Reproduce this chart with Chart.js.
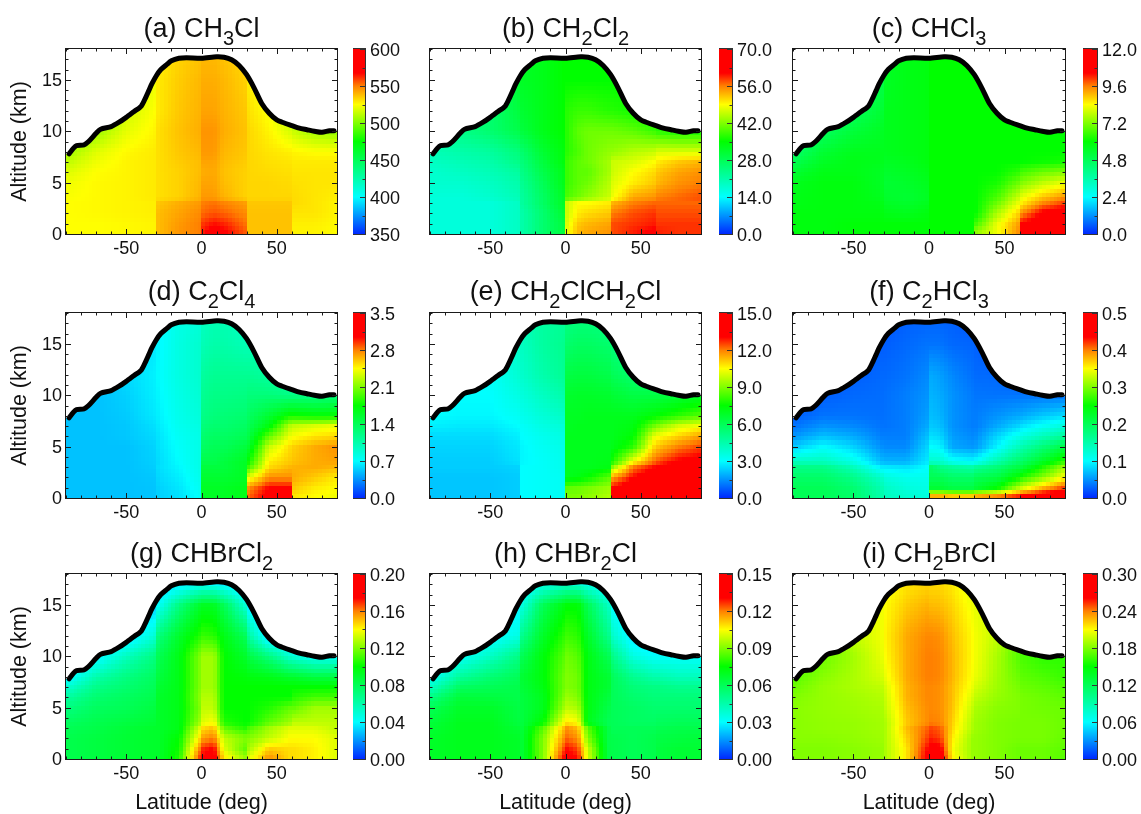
<!DOCTYPE html>
<html><head><meta charset="utf-8">
<script src="https://cdn.jsdelivr.net/npm/chart.js@4"></script>
<style>
html,body{margin:0;padding:0;background:#fff;width:1141px;height:814px;overflow:hidden}
canvas{position:absolute}
.ttl{position:absolute;font-family:"Liberation Sans",sans-serif;font-size:27px;line-height:30px;color:#111;white-space:nowrap;transform:translateX(-50%)}
.ttl sub{font-size:20px;vertical-align:-8px;line-height:0}
</style></head><body>
<script>
const latitudes=[-90,-70,-50,-31,-29,-15,-1,1,8,15,29,31,45,59,61,75,90];
const altitudes=[0,1,2,3,3.5,5,6,7,8,10,12,15,18];
const tropopauseLat=[-88,-85,-83,-78,-75,-70,-67,-60,-55,-50,-45,-40,-37,-35,-33,-30,-27,-23,-20,-15,-10,0,10,15,20,25,30,35,40,45,50,55,60,65,70,75,80,85,88];
const tropopauseAlt=[7.8,8.35,8.6,8.68,9.0,9.8,10.2,10.45,10.85,11.35,11.9,12.45,13.3,13.95,14.6,15.4,16.0,16.5,16.85,17.1,17.15,17.1,17.25,17.2,16.95,16.4,15.5,14.2,12.7,11.75,11.1,10.8,10.55,10.3,10.15,10.0,9.9,10.05,10.05];

const valuesA=[
[525,525,526,527,538,546,550,565,575,570,556,537,537,537,527,527,525],
[525,525,526,527,538,545,550,560,566,563,552,537,537,537,528,528,526],
[525,526,527,528,538,543,548,553,556,554,548,537,537,537,530,530,527],
[525,526,527,528,536,541,545,550,552,549,544,536,536,536,532,530,527],
[524,526,527,529,531,534,540,545,545,540,534,533,533,533,532,530,528],
[522,526,527,529,531,534,539,543,543,538,534,533,533,532,531,530,530],
[518,525,527,529,531,534,538,541,542,537,534,533,532,531,530,530,530],
[512,522,527,529,531,535,538,543,543,538,535,533,531,530,529,529,529],
[505,519,526,529,531,536,539,545,545,539,536,533,530,528,527,525,525],
[495,505,520,527,531,537,541,546,546,541,537,533,527,517,514,506,503],
[490,490,515,525,529,536,540,543,543,540,536,531,524,510,505,500,500],
[490,490,510,522,529,535,539,541,541,539,534,528,522,510,500,500,500],
[490,490,510,518,527,533,536,538,538,536,532,522,520,510,500,500,500]];
const valuesB=[
[17,17,17,19,21,26,30,48,53,54,55,58,60,62,60,59,59],
[17,17,17,19,21,26,30,47,52,53,54,58,59,60,59,59,59],
[17,17,17,19,21,26,31,46,50,51,52,56,58,59,58,58,58],
[17,17,17,19,22,27,32,46,49,49,50,53,56,57,57,57,57],
[17,17,18,20,22,27,32,39,41,43,46,48,54,55,56,57,58],
[18,18,19,21,23,28,33,38,40,41,45,47,50,52,53,55,56],
[18,19,20,22,24,29,33,38,40,40,44,46,49,51,52,54,55],
[19,20,21,24,25,30,34,38,40,41,44,46,47,49,50,52,53],
[20,21,22,25,26,31,34,37,39,41,43,43,45,46,47,47,47],
[22,24,26,29,30,33,35,37,40,41,41,41,40,38,37,36,36],
[24,24,26,30,31,33,35,37,38,38,37,37,36,35,35,35,35],
[24,24,26,31,32,33,35,35,35,35,35,35,35,35,35,35,35],
[24,24,26,31,32,33,35,35,35,35,35,35,35,35,35,35,35]];
const valuesC=[
[5.8,5.8,5.9,5.9,5.9,5.9,5.9,6,6,6,6,7.5,8.3,9.5,11,11.5,11.5],
[5.8,5.8,5.9,5.9,5.9,5.9,5.9,6,6,6,6,6.6,8.2,9.3,10.5,11,11.5],
[5.8,5.8,5.8,5.8,5.7,5.6,5.8,6,6,6,6,6,7.6,8.8,9.4,10.6,11],
[5.7,5.8,5.8,5.7,5.5,5.4,5.6,6,6,6,6,6,7,8.2,8.5,9.5,10],
[5.7,5.8,5.8,5.6,5.4,5.3,5.5,6,6,6,6,6,6.7,7.9,8.2,9,9.5],
[5.6,5.8,5.8,5.5,5.3,5.4,5.6,6,6,6,6,6,6.2,7,7.2,7.8,8.2],
[5.3,5.7,5.7,5.5,5.4,5.5,5.7,6,6,6,6,6,6,6.4,6.6,7,7.2],
[4.9,5.5,5.7,5.6,5.5,5.6,5.8,6,6,6,6,6,6,6,6,6.1,6.2],
[4.5,5.3,5.6,5.6,5.6,5.7,5.8,6,6,6,6,6,6,6,6,6,6],
[4.3,4.7,5.2,5.5,5.6,5.7,5.8,6,6,6,6,6,6,6,6,6,6],
[4.3,4.3,4.7,5.3,5.6,5.7,5.8,6,6,6,6,6,6,6,6,6,6],
[4.3,4.3,4.3,5,5.5,5.7,5.8,6,6,6,6,6,6,6,6,6,6],
[4.3,4.3,4.3,5,5.5,5.7,5.8,6,6,6,6,6,6,6,6,6,6]];
const valuesD=[
[.5,.5,.5,.51,.55,.6,.72,1.6,1.6,1.6,1.65,2.85,3.15,3.15,2.5,2.45,2.4],
[.5,.5,.5,.51,.55,.62,.75,1.6,1.6,1.6,1.65,2.75,3.05,3.05,2.6,2.5,2.45],
[.5,.5,.5,.52,.57,.65,.78,1.55,1.55,1.55,1.6,2.35,2.75,2.75,2.68,2.6,2.5],
[.5,.5,.5,.54,.59,.68,.8,1.5,1.5,1.5,1.6,1.9,2.55,2.65,2.66,2.68,2.65],
[.5,.5,.5,.55,.58,.7,.8,1.45,1.45,1.5,1.6,1.75,2.5,2.6,2.62,2.68,2.7],
[.5,.5,.5,.56,.6,.72,.8,1.35,1.4,1.4,1.5,1.55,2.3,2.55,2.58,2.68,2.75],
[.5,.5,.52,.58,.61,.74,.8,1.3,1.35,1.35,1.4,1.45,2,2.4,2.43,2.52,2.55],
[.5,.5,.52,.6,.63,.76,.82,1.25,1.3,1.3,1.35,1.4,1.7,2.25,2.28,2.35,2.4],
[.5,.5,.53,.63,.65,.78,.85,1.2,1.25,1.27,1.3,1.35,1.55,1.8,1.8,1.75,1.75],
[.5,.5,.55,.65,.67,.8,.88,1.15,1.2,1.2,1.22,1.25,1.25,1.2,1.2,1.2,1.25],
[.5,.5,.58,.66,.69,.82,.9,1.1,1.15,1.15,1.15,1.15,1.1,1.05,1.05,1,1],
[.5,.5,.55,.63,.67,.82,.9,1,1.05,1.05,1,1,1,1,1,1,1],
[.5,.5,.5,.6,.67,.8,.85,.95,1,1,.95,.95,.95,.95,.95,.95,.95]];
const valuesE=[
[2.2,2.2,2.2,2.3,3,3.1,3.2,9,9,9.2,9.6,13.5,14.5,14.5,14.5,14.5,14.5],
[2.2,2.2,2.2,2.3,3,3.1,3.2,8.6,8.7,8.9,9.3,13,14,14.3,14.5,14.5,14.5],
[2.2,2.2,2.2,2.3,3,3.1,3.2,7,7.2,7.5,8.5,11.5,13,14,14.2,14.5,14.5],
[2.3,2.3,2.3,2.4,3,3.1,3.3,7,7,7,7.2,9,12,13,13.2,14,14.2],
[2.3,2.3,2.3,2.6,2.9,3.1,3.3,7,7,7,7.1,7.7,10.5,12.2,12.4,13.2,13.5],
[2.4,2.4,2.4,2.7,2.9,3.2,3.4,7,7,7,7,7.1,8,11,11.2,12,12.5],
[2.5,2.5,2.5,2.8,3,3.3,3.5,7,7,7,7,7,7.4,10.2,10.4,11,11.6],
[2.8,2.7,2.7,3,3.1,3.5,3.7,6.9,7,7,7,7,7.2,8.8,9,10,10.4],
[3,2.9,2.9,3.2,3.3,3.7,4,6.9,6.9,7,7,7,7,7.4,7.5,8,8.5],
[3.1,3,3,3.5,3.6,4.1,4.5,6.7,6.8,6.8,6.7,6.6,6.3,6.3,6.3,6.5,6.8],
[3.1,3,3.1,3.8,3.9,4.5,4.9,6.3,6.4,6.4,6.2,6,5.6,5.4,5.4,5.4,5.4],
[3.1,3,3.2,4,4.1,4.7,5,5.6,5.8,5.8,5.6,5.4,5,5,5,5,5],
[3.1,3,3.2,4,4.2,4.7,4.8,5.1,5.2,5.2,5.1,5,5,5,5,5,5]];
const valuesF=[
[.2,.2,.19,.15,.14,.13,.12,.42,.42,.41,.41,.42,.43,.45,.46,.48,.5],
[.2,.2,.185,.145,.135,.12,.115,.22,.22,.21,.21,.22,.25,.32,.33,.38,.42],
[.19,.19,.17,.13,.12,.11,.11,.2,.2,.19,.19,.2,.21,.25,.26,.3,.35],
[.17,.17,.14,.09,.09,.085,.1,.19,.17,.16,.15,.16,.18,.21,.21,.26,.31],
[.14,.14,.115,.068,.066,.065,.09,.13,.13,.11,.1,.105,.15,.19,.19,.23,.27],
[.075,.1,.08,.048,.046,.045,.08,.1,.095,.06,.052,.054,.095,.14,.145,.18,.21],
[.05,.07,.06,.04,.04,.04,.07,.085,.08,.055,.045,.047,.08,.11,.115,.14,.16],
[.035,.05,.045,.035,.035,.04,.06,.075,.07,.05,.04,.04,.06,.08,.085,.105,.12],
[.025,.035,.035,.033,.034,.04,.055,.07,.065,.05,.04,.04,.05,.06,.06,.075,.085],
[.02,.025,.03,.032,.033,.04,.05,.065,.06,.05,.038,.036,.035,.035,.035,.035,.035],
[.02,.02,.025,.03,.03,.035,.045,.06,.055,.045,.033,.031,.03,.025,.025,.025,.025],
[.02,.02,.02,.025,.025,.03,.035,.035,.035,.03,.028,.026,.02,.02,.02,.02,.02],
[.02,.02,.02,.02,.02,.025,.025,.025,.025,.025,.02,.02,.02,.02,.02,.02,.02]];
const valuesG=[
[.082,.085,.088,.09,.09,.105,.17,.175,.18,.145,.125,.135,.158,.145,.145,.142,.135],
[.082,.085,.088,.09,.09,.102,.16,.17,.175,.135,.115,.125,.148,.145,.145,.142,.135],
[.082,.085,.088,.09,.09,.1,.145,.155,.16,.13,.12,.12,.13,.14,.14,.14,.135],
[.08,.083,.087,.09,.09,.095,.135,.145,.15,.115,.105,.11,.125,.135,.135,.135,.13],
[.078,.082,.085,.088,.09,.095,.125,.135,.14,.105,.1,.1,.115,.125,.13,.13,.13],
[.07,.078,.08,.085,.09,.095,.12,.13,.13,.1,.1,.1,.105,.115,.115,.125,.125],
[.062,.074,.078,.082,.09,.095,.122,.128,.128,.1,.1,.1,.1,.1,.105,.11,.11],
[.05,.068,.074,.08,.088,.095,.12,.125,.125,.1,.1,.1,.1,.1,.1,.1,.1],
[.035,.06,.07,.078,.085,.095,.12,.125,.125,.1,.098,.097,.095,.09,.09,.085,.085],
[.03,.035,.055,.07,.08,.095,.12,.125,.125,.1,.09,.085,.07,.05,.048,.04,.04],
[.03,.03,.03,.05,.07,.09,.105,.108,.106,.095,.08,.065,.03,.03,.03,.03,.03],
[.03,.03,.03,.03,.04,.07,.09,.092,.092,.08,.05,.035,.03,.03,.03,.03,.03],
[.02,.02,.02,.02,.02,.015,.015,.015,.015,.015,.02,.02,.02,.02,.02,.02,.02]];
const valuesH=[
[.068,.07,.07,.068,.066,.09,.132,.135,.13,.1,.062,.062,.06,.062,.064,.066,.066],
[.068,.07,.07,.068,.066,.09,.125,.13,.125,.098,.062,.062,.06,.062,.064,.066,.066],
[.068,.07,.07,.068,.066,.09,.118,.122,.118,.09,.062,.062,.06,.062,.063,.064,.065],
[.066,.07,.07,.066,.065,.085,.113,.118,.113,.085,.062,.06,.06,.06,.061,.062,.062],
[.065,.07,.07,.064,.064,.075,.105,.108,.105,.07,.06,.06,.058,.058,.059,.06,.06],
[.06,.068,.068,.063,.064,.07,.094,.097,.095,.072,.062,.06,.058,.056,.056,.056,.056],
[.052,.065,.064,.062,.064,.07,.09,.093,.09,.072,.064,.06,.056,.054,.054,.054,.054],
[.04,.058,.06,.062,.065,.072,.088,.09,.088,.072,.066,.06,.054,.052,.052,.05,.05],
[.03,.048,.055,.06,.066,.073,.088,.09,.088,.072,.066,.06,.05,.045,.045,.042,.042],
[.028,.03,.04,.052,.06,.073,.085,.088,.085,.072,.06,.052,.035,.03,.03,.03,.03],
[.028,.028,.028,.035,.05,.068,.08,.082,.08,.068,.05,.04,.025,.025,.025,.025,.025],
[.026,.026,.026,.028,.035,.06,.072,.074,.074,.06,.04,.03,.025,.025,.025,.025,.025],
[.02,.02,.02,.02,.02,.02,.02,.02,.02,.02,.02,.02,.02,.02,.02,.02,.02]];
const valuesI=[
[.18,.18,.182,.185,.19,.215,.265,.28,.275,.215,.185,.185,.18,.175,.175,.175,.17],
[.18,.18,.182,.185,.19,.215,.26,.27,.265,.21,.185,.185,.18,.175,.175,.175,.172],
[.182,.182,.184,.187,.19,.22,.25,.255,.25,.215,.185,.185,.18,.178,.178,.178,.174],
[.182,.184,.185,.188,.19,.225,.245,.25,.245,.22,.19,.187,.18,.178,.178,.178,.175],
[.182,.184,.185,.188,.19,.222,.237,.24,.238,.222,.19,.187,.18,.178,.178,.178,.175],
[.182,.185,.187,.19,.195,.225,.237,.238,.236,.225,.195,.19,.182,.18,.178,.176,.175],
[.18,.185,.188,.192,.197,.228,.238,.238,.236,.226,.2,.195,.185,.18,.178,.175,.172],
[.175,.185,.19,.195,.2,.228,.238,.238,.236,.226,.205,.2,.187,.178,.175,.172,.168],
[.17,.182,.19,.2,.205,.23,.24,.24,.238,.228,.208,.205,.188,.175,.172,.168,.163],
[.165,.175,.188,.205,.21,.23,.24,.24,.238,.228,.21,.207,.19,.17,.167,.16,.16],
[.165,.165,.195,.207,.212,.23,.238,.238,.236,.226,.21,.207,.195,.175,.165,.16,.16],
[.165,.165,.195,.207,.21,.222,.228,.226,.225,.22,.206,.204,.195,.175,.165,.16,.16],
[.165,.165,.195,.205,.205,.212,.215,.215,.215,.212,.2,.2,.195,.175,.165,.16,.16]];

const ticksA=['350','400','450','500','550','600'];
const ticksB=['0.0','14.0','28.0','42.0','56.0','70.0'];
const ticksC=['0.0','2.4','4.8','7.2','9.6','12.0'];
const ticksD=['0.0','0.7','1.4','2.1','2.8','3.5'];
const ticksE=['0.0','3.0','6.0','9.0','12.0','15.0'];
const ticksF=['0.0','0.1','0.2','0.3','0.4','0.5'];
const ticksG=['0.00','0.04','0.08','0.12','0.16','0.20'];
const ticksH=['0.00','0.03','0.06','0.09','0.12','0.15'];
const ticksI=['0.00','0.06','0.12','0.18','0.24','0.30'];

const titles=['(a) CH<sub>3</sub>Cl','(b) CH<sub>2</sub>Cl<sub>2</sub>','(c) CHCl<sub>3</sub>','(d) C<sub>2</sub>Cl<sub>4</sub>','(e) CH<sub>2</sub>ClCH<sub>2</sub>Cl','(f) C<sub>2</sub>HCl<sub>3</sub>','(g) CHBrCl<sub>2</sub>','(h) CHBr<sub>2</sub>Cl','(i) CH<sub>2</sub>BrCl'];
const panelValues=[valuesA,valuesB,valuesC,valuesD,valuesE,valuesF,valuesG,valuesH,valuesI];
const panelTicks=[ticksA,ticksB,ticksC,ticksD,ticksE,ticksF,ticksG,ticksH,ticksI];

// Layout of the page
const plotLeft=[66,430,793], plotWidth=[271,271,272];
const barLeft=[353,719,1083], barWidth=[12,13,14];
const plotTop=[49,313,574], plotHeight=185;
const titleBase=[36.5,300,561.5];
const FONT='"Liberation Sans", sans-serif', INK='#111';
const PAD=20;

// Colour table
const stopPos=[0,.2,.35,.5,.6,.7,.8,.87,1];
const stopRGB=[[0,40,255],[0,255,255],[0,255,128],[0,255,0],[128,255,0],[255,255,0],[255,128,0],[255,0,0],[255,0,0]];
function colorAt(t){
  t=Math.max(0,Math.min(1,t));
  let i=0; while(i<stopPos.length-2&&t>stopPos[i+1])i++;
  const f=(t-stopPos[i])/(stopPos[i+1]-stopPos[i]);
  return stopRGB[i].map((c,k)=>c+(stopRGB[i+1][k]-c)*f);
}
function locate(arr,v){
  let i=0; while(i<arr.length-2&&v>arr[i+1])i++;
  return [i,Math.max(0,Math.min(1,(v-arr[i])/(arr[i+1]-arr[i])))];
}
function profile(lat){const [i,f]=locate(tropopauseLat,lat);return tropopauseAlt[i]+(tropopauseAlt[i+1]-tropopauseAlt[i])*f;}

function heatPlugin(grid,min,max){return {id:'heat',beforeDatasetsDraw(chart){
  const {left,top,width,height}=chart.chartArea, sx=chart.scales.x, sy=chart.scales.y;
  const w=Math.round(width),h=Math.round(height);
  const off=document.createElement('canvas');off.width=w;off.height=h;
  const oc=off.getContext('2d'),img=oc.createImageData(w,h);
  for(let py=0;py<h;py++){
    const alt=sy.getValueForPixel(top+py+.5), qa=(Math.floor(alt/.4)+.5)*.4;
    const [r,fr]=locate(altitudes,qa);
    for(let px=0;px<w;px++){
      const lat=sx.getValueForPixel(left+px+.5);
      if(alt>profile(lat))continue;
      const ql=(Math.floor(lat/2.5)+.5)*2.5;
      const [c,fc]=locate(latitudes,ql);
      const v=(grid[r][c]*(1-fc)+grid[r][c+1]*fc)*(1-fr)+(grid[r+1][c]*(1-fc)+grid[r+1][c+1]*fc)*fr;
      const rgb=colorAt((v-min)/(max-min)), o=(py*w+px)*4;
      img.data[o]=rgb[0];img.data[o+1]=rgb[1];img.data[o+2]=rgb[2];img.data[o+3]=255;
    }
  }
  oc.putImageData(img,0,0);
  chart.ctx.drawImage(off,left,top);
}};}

function framePlugin(color,withX,majorY){return {id:'frame',afterDatasetsDraw(chart){
  const a=chart.chartArea, ctx=chart.ctx;
  ctx.save();ctx.strokeStyle=color;ctx.lineWidth=1;
  const seg=(x1,y1,x2,y2)=>{ctx.beginPath();ctx.moveTo(x1,y1);ctx.lineTo(x2,y2);ctx.stroke();};
  if(withX){
    chart.scales.x.ticks.forEach(t=>{
      const p=Math.round(chart.scales.x.getPixelForValue(t.value))+.5, l=t.label?5:2.5;
      seg(p,a.bottom,p,a.bottom-l);seg(p,a.top,p,a.top+l);
    });
  }
  const sy=chart.scales.y;
  sy.ticks.forEach(t=>{
    const p=Math.round(sy.getPixelForValue(t.value))+.5, l=majorY(t.value)?5:2.5;
    seg(a.right,p,a.right-l,p);
    if(withX)seg(a.left,p,a.left+l,p);
  });
  ctx.strokeRect(Math.round(a.left)-.5,Math.round(a.top)-.5,Math.round(a.width)+1,Math.round(a.height)+1);
  ctx.restore();
}};}

function addCanvas(x,y,w,h){
  const c=document.createElement('canvas');c.width=w;c.height=h;
  c.style.left=x+'px';c.style.top=y+'px';c.style.width=w+'px';c.style.height=h+'px';
  document.body.appendChild(c);return c;
}

panelValues.forEach((grid,idx)=>{
  const col=idx%3,row=Math.floor(idx/3),pl=plotLeft[col],pw=plotWidth[col],pt=plotTop[row];
  const labels=panelTicks[idx],min=parseFloat(labels[0]),max=parseFloat(labels[5]);
  const showY=col===0,showX=row===2;
  const points=[];
  altitudes.forEach((alt,r)=>latitudes.forEach((lat,c)=>points.push({x:lat,y:alt,v:grid[r][c]})));
  const canvas=addCanvas(pl-66,pt-PAD,66+pw+6,PAD+plotHeight+(814-759));
  new Chart(canvas,{
    type:'scatter',
    data:{datasets:[
      {label:'Mixing ratio',data:points,pointRadius:0,showLine:false},
      {label:'Tropopause',data:tropopauseLat.map((x,i)=>({x,y:tropopauseAlt[i]})),showLine:true,borderColor:'#000',borderWidth:5,pointRadius:0,tension:.25,borderCapStyle:'round',borderJoinStyle:'round',clip:false}
    ]},
    plugins:[heatPlugin(grid,min,max),framePlugin('#1a1a1a',true,v=>v%5===0)],
    options:{
      responsive:false,animation:false,events:[],
      layout:{padding:{left:0,right:6,top:PAD,bottom:0}},
      plugins:{legend:{display:false},tooltip:{enabled:false}},
      scales:{
        x:{type:'linear',min:-90,max:90,
          grid:{display:false,drawTicks:false},border:{display:false},
          afterFit(s){s.height=55;},
          ticks:{stepSize:10,autoSkip:false,maxRotation:0,padding:4,color:INK,font:{family:FONT,size:18},
            callback:v=>(v===-50||v===0||v===50)?String(v):''},
          title:{display:showX,text:'Latitude (deg)',color:INK,font:{family:FONT,size:21.5,lineHeight:1},padding:{top:0,bottom:0}}},
        y:{type:'linear',min:0,max:18,
          grid:{display:false,drawTicks:false},border:{display:false},
          afterFit(s){s.width=66;},
          ticks:{stepSize:1,autoSkip:false,padding:4,labelOffset:1,color:INK,font:{family:FONT,size:18},
            callback:v=>(showY&&v%5===0)?String(v):''},
          title:{display:showY,text:'Altitude (km)',color:INK,font:{family:FONT,size:21.5,lineHeight:1},padding:{top:9,bottom:0}}}
      }
    }
  });

  // colour bar
  const bl=barLeft[col],bw=barWidth[col];
  const barCanvas=addCanvas(bl,pt-PAD,Math.min(bw+48,1141-bl),PAD+plotHeight+PAD);
  const step=(max-min)/10;
  const isLabel=v=>labels.some(l=>Math.abs(parseFloat(l)-v)<step/4);
  new Chart(barCanvas,{
    type:'bar',
    data:{labels:[''],datasets:[{data:[[min,max]],barPercentage:1,categoryPercentage:1,borderSkipped:false,
      backgroundColor(ctx){
        const a=ctx.chart.chartArea; if(!a)return '#0f0';
        const g=ctx.chart.ctx.createLinearGradient(0,a.bottom,0,a.top);
        stopPos.forEach((p,i)=>g.addColorStop(p,'rgb('+stopRGB[i].join(',')+')'));
        return g;
      }}]},
    plugins:[framePlugin('#333',false,isLabel)],
    options:{
      responsive:false,animation:false,events:[],
      layout:{padding:{left:0,right:0,top:PAD,bottom:PAD}},
      plugins:{legend:{display:false},tooltip:{enabled:false}},
      scales:{
        x:{display:false,type:'category'},
        y:{type:'linear',position:'right',min,max,
          grid:{display:false,drawTicks:false},border:{display:false},
          afterFit(s){s.width=Math.min(48,1141-bl-bw);},
          ticks:{stepSize:step,autoSkip:false,padding:5,labelOffset:2,color:INK,font:{family:FONT,size:18},
            callback(v){const l=labels.find(l=>Math.abs(parseFloat(l)-v)<step/4);return l||'';}}
        }
      }
    }
  });

  const t=document.createElement('div');t.className='ttl';t.innerHTML=titles[idx];
  t.style.left=(pl+pw/2)+'px';t.style.top=(titleBase[row]-24)+'px';
  document.body.appendChild(t);
});
</script>
</body></html>
